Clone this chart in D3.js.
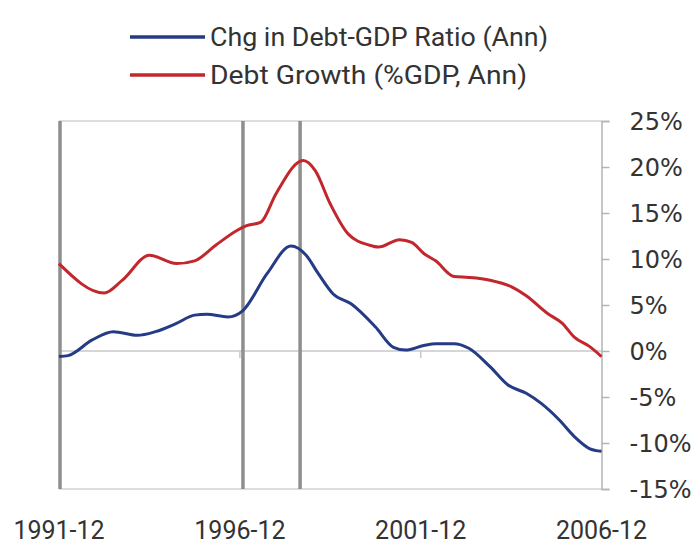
<!DOCTYPE html>
<html>
<head>
<meta charset="utf-8">
<script src="https://cdn.jsdelivr.net/npm/d3@7/dist/d3.min.js"></script>
<style>
  html, body { margin: 0; padding: 0; background: #fff; }
  svg { display: block; }
  text { font-family: Roboto, "Noto Sans", sans-serif; fill: #333; }
</style>
</head>
<body>
<svg id="chart" width="700" height="548"></svg>
<script>
// ---- Data ----
const seriesNames = ["Chg in Debt-GDP Ratio (Ann)", "Debt Growth (%GDP, Ann)"];
const seriesColors = ["#253b86", "#c1272d"];

const ratioDates = ["1991-12","1992-03","1992-11","1993-06","1994-02","1994-08","1995-03","1995-09",
  "1996-01","1996-08","1997-01","1997-09","1998-05","1998-10","1999-02","1999-07","2000-01",
  "2000-09","2001-03","2001-07","2002-01","2002-05","2002-11","2003-04","2003-11","2004-05",
  "2004-11","2005-04","2005-10","2006-03","2006-08","2006-12"];
const ratioValues = [-0.6,-0.5,1.2,2.1,1.7,2.1,3.0,3.9,
  4.0,3.7,4.4,8.4,11.4,10.4,8.4,6.2,5.1,
  2.6,0.4,0.1,0.6,0.8,0.8,0.3,-1.7,-3.7,
  -4.6,-5.7,-7.5,-9.3,-10.6,-10.9];

const growthDates = ["1991-12","1993-03","1993-09","1994-06","1995-03","1995-09","1996-04","1996-11",
  "1997-02","1997-07","1997-12","1998-09","1999-01","1999-06","1999-12","2000-07","2000-10",
  "2001-05","2001-09","2002-01","2002-05","2002-11","2003-04","2003-11","2004-06","2004-11",
  "2005-06","2005-11","2006-03","2006-08","2006-12"];
const growthValues = [9.5,6.3,7.7,10.4,9.5,9.8,11.5,13.1,
  13.6,14.0,17.1,20.7,19.6,16.0,12.7,11.5,11.3,
  12.1,11.8,10.6,9.8,8.1,8.0,7.7,7.0,6.0,
  4.1,3.0,1.5,0.5,-0.6];

const eventDates = ["1997-01", "1998-08"];
const xTickLabels = ["1991-12","1996-12","2001-12","2006-12"];
const yTicks = [25,20,15,10,5,0,-5,-10,-15];

// ---- Setup ----
const parse = d3.timeParse("%Y-%m");
const svg = d3.select("#chart");
const L = 59, R = 601.5, T = 121, B = 489;

const x = d3.scaleTime()
  .domain([parse("1991-12"), parse("2006-12")])
  .range([L, R]);
const y = d3.scaleLinear().domain([-15, 25]).range([B, T]);

// frame top / bottom
svg.append("line").attr("x1", L).attr("x2", R).attr("y1", T).attr("y2", T)
  .attr("stroke", "#d2d2d2").attr("stroke-width", 1.5);
svg.append("line").attr("x1", L).attr("x2", R).attr("y1", B).attr("y2", B)
  .attr("stroke", "#d2d2d2").attr("stroke-width", 1.5);

// zero line
svg.append("line").attr("x1", L).attr("x2", R).attr("y1", y(0)).attr("y2", y(0))
  .attr("stroke", "#c8c8c8").attr("stroke-width", 1.5);

// small x ticks on zero line
svg.selectAll(".zt").data(xTickLabels.slice(1, 3)).enter().append("line")
  .attr("x1", d => x(parse(d))).attr("x2", d => x(parse(d)))
  .attr("y1", y(0)).attr("y2", y(0) + 7)
  .attr("stroke", "#c8c8c8").attr("stroke-width", 1.5);

// right axis
const yAxis = d3.axisRight(y).tickValues(yTicks).tickSize(8).tickFormat(d => d + "%");
const ga = svg.append("g").attr("transform", `translate(${R},0)`).call(yAxis);
ga.select(".domain").attr("stroke", "#b4b4b4").attr("stroke-width", 1.5);
ga.selectAll(".tick line").attr("stroke", "#b4b4b4").attr("stroke-width", 1.5);
ga.selectAll(".tick text").attr("x", 28).attr("dy", "0.36em")
  .style("font-size", "24px").style("fill", "#333").style("font-family", "'DejaVu Sans', sans-serif");

// left boundary + event lines
svg.append("line").attr("x1", L + 1).attr("x2", L + 1).attr("y1", T).attr("y2", B)
  .attr("stroke", "#8e8e8e").attr("stroke-width", 3.5);
svg.selectAll(".ev").data(eventDates).enter().append("line")
  .attr("x1", d => x(parse(d))).attr("x2", d => x(parse(d)))
  .attr("y1", T).attr("y2", B)
  .attr("stroke", "#8e8e8e").attr("stroke-width", 3.5);

// x labels
svg.selectAll(".xl").data(xTickLabels).enter().append("text")
  .attr("x", d => x(parse(d))).attr("y", 539)
  .attr("text-anchor", "middle").style("font-size", "25px")
  .text(d => d);

// lines
const lineGen = d3.line()
  .x(d => x(d[0])).y(d => y(d[1]))
  .curve(d3.curveMonotoneX);

const ratioData = ratioDates.map((d, i) => [parse(d), ratioValues[i]]);
const growthData = growthDates.map((d, i) => [parse(d), growthValues[i]]);

svg.append("path").datum(growthData).attr("d", lineGen)
  .attr("fill", "none").attr("stroke", seriesColors[1]).attr("stroke-width", 3)
  .attr("stroke-linejoin", "round");
svg.append("path").datum(ratioData).attr("d", lineGen)
  .attr("fill", "none").attr("stroke", seriesColors[0]).attr("stroke-width", 3)
  .attr("stroke-linejoin", "round");

// legend
const legY = [37, 75];
const legW = [338, 317];
seriesNames.forEach((name, i) => {
  svg.append("line").attr("x1", 130).attr("x2", 205)
    .attr("y1", legY[i]).attr("y2", legY[i])
    .attr("stroke", seriesColors[i]).attr("stroke-width", 3.5);
  svg.append("text").attr("x", 210).attr("y", legY[i]).attr("dy", "0.36em")
    .attr("textLength", legW[i]).attr("lengthAdjust", "spacingAndGlyphs")
    .style("font-size", "26px").text(name);
});
</script>
</body>
</html>
